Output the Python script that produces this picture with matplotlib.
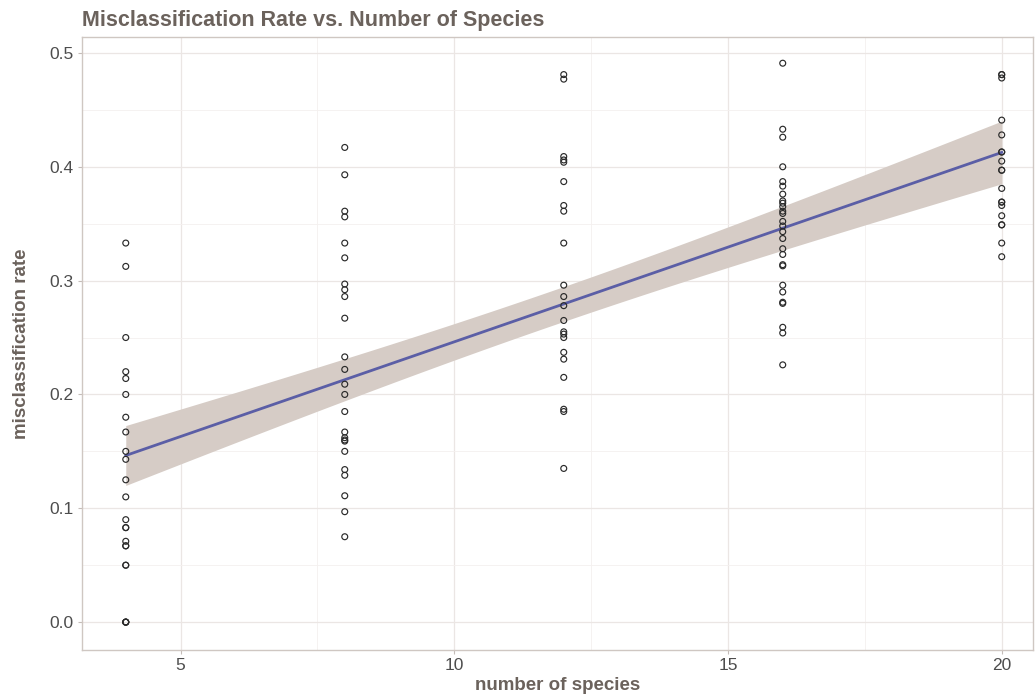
import matplotlib
matplotlib.use("Agg")
import matplotlib.pyplot as plt
import numpy as np

plt.rcParams['font.family'] = ['Liberation Sans', 'DejaVu Sans']

# misclassification rates, per number of species
# (repeated values are runs that overlap exactly on the plot)
rates_4 = [0.333, 0.3125, 0.25, 0.22, 0.214, 0.2, 0.18, 0.167, 0.15, 0.143,
           0.125, 0.11, 0.09, 0.083, 0.083, 0.071, 0.067, 0.067, 0.05, 0.05,
           0.0, 0.0, 0.0, 0.0]
rates_8 = [0.417, 0.393, 0.361, 0.356, 0.333, 0.32, 0.297, 0.292, 0.286, 0.267,
           0.233, 0.222, 0.209, 0.2, 0.185, 0.167, 0.162, 0.16, 0.159, 0.15,
           0.134, 0.129, 0.111, 0.097, 0.075]
rates_12 = [0.481, 0.477, 0.409, 0.406, 0.404, 0.387, 0.366, 0.361, 0.333, 0.296,
            0.286, 0.278, 0.265, 0.255, 0.253, 0.25, 0.237, 0.231, 0.215, 0.187,
            0.185, 0.135]
rates_16 = [0.491, 0.433, 0.426, 0.4, 0.387, 0.383, 0.376, 0.37, 0.368, 0.365,
            0.361, 0.359, 0.352, 0.348, 0.343, 0.337, 0.328, 0.323, 0.314, 0.313,
            0.296, 0.29, 0.281, 0.28, 0.259, 0.254, 0.226]
rates_20 = [0.481, 0.481, 0.478, 0.441, 0.428, 0.413, 0.413, 0.405, 0.397, 0.397,
            0.381, 0.369, 0.369, 0.366, 0.357, 0.349, 0.349, 0.333, 0.321]

species = [4, 8, 12, 16, 20]
groups = [rates_4, rates_8, rates_12, rates_16, rates_20]

x = np.concatenate([[s] * len(g) for s, g in zip(species, groups)]).astype(float)
y = np.concatenate(groups)

# linear fit with 95% confidence band (like geom_smooth(method='lm'))
slope, icpt = np.polyfit(x, y, 1)
n = len(x)
resid = y - (slope * x + icpt)
s_err = np.sqrt(np.sum(resid ** 2) / (n - 2))
xs = np.linspace(4, 20, 200)
ys = slope * xs + icpt
se_fit = s_err * np.sqrt(1.0 / n + (xs - x.mean()) ** 2 / np.sum((x - x.mean()) ** 2))
tval = 1.98
lo, hi = ys - tval * se_fit, ys + tval * se_fit

title_col = '#6b625c'
fig = plt.figure(figsize=(10.35, 6.96), dpi=100)
ax = fig.add_axes([0.0792, 0.0661, 0.9188, 0.8807])

ax.fill_between(xs, lo, hi, color='#d6ccc6', lw=0, zorder=2)
ax.plot(xs, ys, color='#5b5ea6', lw=2, zorder=3)
ax.scatter(x, y, s=18, facecolors='none', edgecolors='#2a2a2a', linewidths=0.85, zorder=4)

ax.set_xlim(3.2, 20.57)
ax.set_ylim(-0.0245, 0.514)
ax.set_xticks([5, 10, 15, 20])
ax.set_yticks([0.0, 0.1, 0.2, 0.3, 0.4, 0.5])
ax.set_yticklabels(['0.0', '0.1', '0.2', '0.3', '0.4', '0.5'])
ax.set_xticks([7.5, 12.5, 17.5], minor=True)
ax.set_yticks([0.05, 0.15, 0.25, 0.35, 0.45], minor=True)
ax.grid(which='major', color='#ebe6e4', lw=0.9, zorder=0)
ax.grid(which='minor', color='#f4f0ef', lw=0.6, zorder=0)
ax.set_axisbelow(True)
ax.tick_params(which='major', length=3, width=0.8, color='#c4bcb8', labelsize=12.5,
               labelcolor='#4d4d4d', pad=3)
ax.tick_params(which='minor', length=0)
for sp in ax.spines.values():
    sp.set_color('#cfc7c2')
    sp.set_linewidth(1)

ax.set_xlabel('number of species', fontsize=13.5, fontweight='bold', color=title_col, labelpad=3)
ax.set_ylabel('misclassification rate', fontsize=13.5, fontweight='bold', color=title_col, labelpad=14)
fig.text(0.0792, 0.962, 'Misclassification Rate vs. Number of Species', fontsize=15.5,
         fontweight='bold', color=title_col, ha='left', va='baseline')

fig.savefig('out.png', dpi=100)
